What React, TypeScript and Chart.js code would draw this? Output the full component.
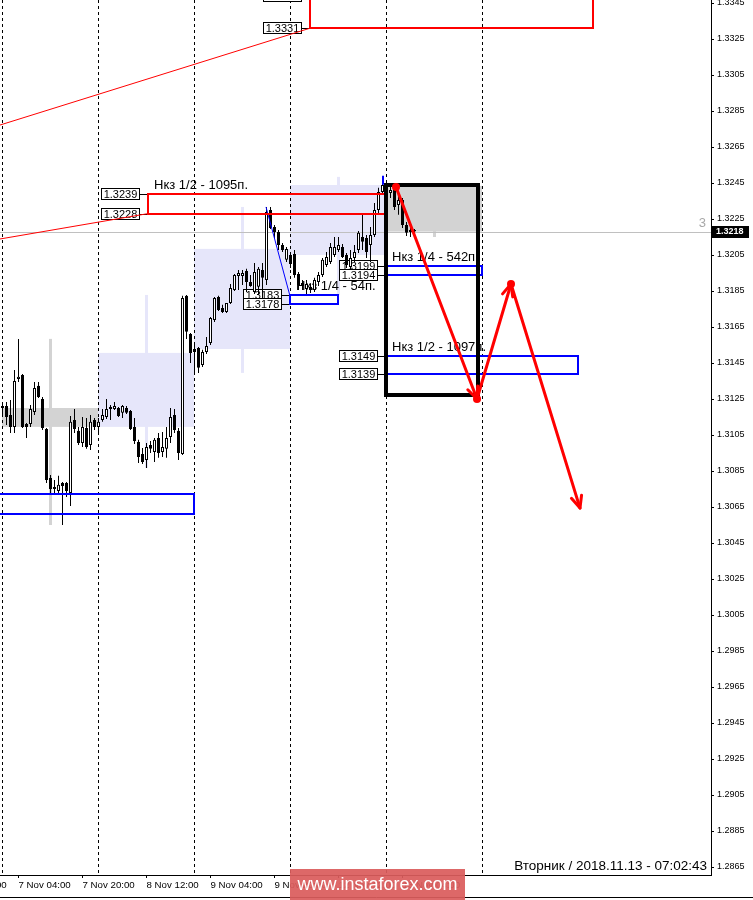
import React, { useEffect, useRef } from 'react';
import { Chart, registerables } from 'chart.js';

Chart.register(...registerables);

// ---------- DATA ----------
// Hourly candles, index = trading hour since 7 Nov 00:00 (weekend skipped)
const DAY_NAMES = ['7 Nov', '8 Nov', '9 Nov', '12 Nov', '13 Nov'];
const DAY_START = [0, 24, 48, 72, 96];
const SEPARATORS = [0, 24, 48, 72, 96, 120];

const OPEN = [
  1.31200, 1.31211, 1.31161, 1.31095, 1.31361, 1.31384, 1.31111, 1.31111, 1.31178, 1.31323, 1.31250, 1.31084,
  1.30811, 1.30761, 1.30739, 1.30784, 1.30784, 1.30728, 1.31134, 1.31073, 1.31006, 1.31089, 1.30995, 1.31134,
  1.31095, 1.31134, 1.31150, 1.31195, 1.31195, 1.31200, 1.31173, 1.31200, 1.31184, 1.31095, 1.31011, 1.30945,
  1.30911, 1.30995, 1.30956, 1.31034, 1.30956, 1.30973, 1.31039, 1.31161, 1.31073, 1.30945, 1.31823, 1.31611,
  1.31528, 1.31534, 1.31439, 1.31511, 1.31561, 1.31689, 1.31817, 1.31756, 1.31734, 1.31784, 1.31856, 1.31934,
  1.31934, 1.31961, 1.31900, 1.31845, 1.31873, 1.31967, 1.31911, 1.32300, 1.32206, 1.32178, 1.32106, 1.32023,
  1.32050, 1.32056, 1.31945, 1.31895, 1.31861, 1.31873, 1.31856, 1.31900, 1.31939, 1.31995, 1.32011, 1.32050,
  1.32078, 1.32095, 1.32050, 1.31984, 1.32034, 1.32078, 1.32150, 1.32145, 1.32106, 1.32161, 1.32300, 1.32400,
  1.32434, 1.32395, 1.32411, 1.32328, 1.32356, 1.32217, 1.32178, 1.32189,
];
const HIGH = [
  1.31234, 1.31234, 1.31245, 1.31411, 1.31584, 1.31389, 1.31117, 1.31217, 1.31345, 1.31345, 1.31261, 1.31089,
  1.30828, 1.30800, 1.30823, 1.30789, 1.30789, 1.31156, 1.31195, 1.31095, 1.31150, 1.31145, 1.31161, 1.31145,
  1.31145, 1.31195, 1.31250, 1.31217, 1.31234, 1.31206, 1.31217, 1.31211, 1.31189, 1.31145, 1.31023, 1.30978,
  1.31006, 1.31017, 1.31034, 1.31061, 1.31067, 1.31095, 1.31200, 1.31195, 1.31089, 1.31823, 1.31828, 1.31617,
  1.31550, 1.31539, 1.31523, 1.31595, 1.31706, 1.31817, 1.31823, 1.31773, 1.31784, 1.31889, 1.31945, 1.31967,
  1.31967, 1.31973, 1.31939, 1.32006, 1.31984, 1.32006, 1.32317, 1.32317, 1.32217, 1.32189, 1.32117, 1.32095,
  1.32067, 1.32078, 1.31956, 1.31911, 1.31911, 1.31889, 1.31923, 1.31956, 1.32034, 1.32067, 1.32117, 1.32150,
  1.32150, 1.32111, 1.32061, 1.32078, 1.32106, 1.32184, 1.32273, 1.32161, 1.32206, 1.32339, 1.32423, 1.32484,
  1.32445, 1.32439, 1.32423, 1.32384, 1.32367, 1.32234, 1.32200, 1.32195,
];
const LOW = [
  1.31150, 1.31106, 1.31061, 1.31061, 1.31345, 1.31089, 1.31034, 1.31095, 1.31161, 1.31256, 1.31078, 1.30784,
  1.30728, 1.30717, 1.30717, 1.30550, 1.30706, 1.30656, 1.31061, 1.30995, 1.30984, 1.30973, 1.30967, 1.31078,
  1.31061, 1.31123, 1.31139, 1.31134, 1.31189, 1.31150, 1.31145, 1.31167, 1.31078, 1.31000, 1.30895, 1.30889,
  1.30867, 1.30950, 1.30900, 1.30923, 1.30928, 1.30923, 1.31006, 1.31061, 1.30911, 1.30939, 1.31584, 1.31450,
  1.31400, 1.31395, 1.31428, 1.31500, 1.31550, 1.31678, 1.31739, 1.31728, 1.31728, 1.31778, 1.31850, 1.31856,
  1.31884, 1.31845, 1.31873, 1.31834, 1.31828, 1.31811, 1.31884, 1.32195, 1.32145, 1.32078, 1.32067, 1.32011,
  1.31978, 1.31923, 1.31856, 1.31856, 1.31828, 1.31839, 1.31845, 1.31878, 1.31928, 1.31984, 1.32000, 1.32039,
  1.32067, 1.32034, 1.31978, 1.31967, 1.32011, 1.32061, 1.32078, 1.32034, 1.32011, 1.32150, 1.32278, 1.32384,
  1.32378, 1.32367, 1.32300, 1.32273, 1.32200, 1.32156, 1.32150, 1.32173,
];
const CLOSE = [
  1.31211, 1.31150, 1.31095, 1.31350, 1.31373, 1.31095, 1.31095, 1.31195, 1.31311, 1.31261, 1.31089, 1.30800,
  1.30750, 1.30750, 1.30773, 1.30767, 1.30739, 1.31123, 1.31084, 1.31006, 1.31095, 1.30984, 1.31123, 1.31095,
  1.31123, 1.31161, 1.31195, 1.31206, 1.31211, 1.31156, 1.31211, 1.31173, 1.31084, 1.31017, 1.30928, 1.30900,
  1.30984, 1.30973, 1.31023, 1.30950, 1.30984, 1.31034, 1.31150, 1.31078, 1.30950, 1.31811, 1.31623, 1.31506,
  1.31511, 1.31423, 1.31511, 1.31545, 1.31700, 1.31811, 1.31745, 1.31734, 1.31784, 1.31867, 1.31939, 1.31950,
  1.31950, 1.31900, 1.31878, 1.31956, 1.31973, 1.31923, 1.32289, 1.32200, 1.32178, 1.32106, 1.32078, 1.32084,
  1.32000, 1.31939, 1.31884, 1.31884, 1.31889, 1.31856, 1.31911, 1.31939, 1.32023, 1.32039, 1.32095, 1.32095,
  1.32106, 1.32039, 1.31995, 1.32034, 1.32067, 1.32173, 1.32123, 1.32067, 1.32161, 1.32300, 1.32400, 1.32439,
  1.32395, 1.32411, 1.32317, 1.32356, 1.32217, 1.32173, 1.32189, 1.32180,
];

const X_TICK_H = [-12, 4, 20, 36, 52, 68, 84, 100];
const X_TICK_LABELS = ['6 Nov 12:00', '7 Nov 04:00', '7 Nov 20:00', '8 Nov 12:00', '9 Nov 04:00', '9 Nov 20:00', '12 Nov 12:00', '13 Nov 04:00'];
const Y_TICKS = [
  1.2865, 1.2885, 1.2905, 1.2925, 1.2945, 1.2965, 1.2985, 1.3005, 1.3025, 1.3045, 1.3065, 1.3085, 1.3105,
  1.3125, 1.3145, 1.3165, 1.3185, 1.3205, 1.3225, 1.3245, 1.3265, 1.3285, 1.3305, 1.3325, 1.3345,
];
const X_MIN = -0.625;
const X_MAX = 177.125;
const Y_MIN = 1.286056;
const Y_MAX = 1.334667;

// Zones (hour start, hour end, low price, high price)
const ZONE_KIND = ['red', 'red', 'blue', 'blue', 'blue', 'blue'];
const ZONE_H0 = [76.875, 36.375, -2, 71.875, 95.875, 95.875];
const ZONE_H1 = [147.625, 95.875, 47.875, 83.875, 119.875, 143.875];
const ZONE_LO = [1.3331, 1.3228, 1.3061, 1.3178, 1.3194, 1.3139];
const ZONE_HI = [1.3349, 1.3239, 1.3072, 1.3183, 1.3199, 1.3149];
const ZONE_LABELED = [true, true, false, true, true, true];
const ZONE_CAPTION = ['', 'Нкз 1/2 - 1095п.', '', 'Нкз 1/4 - 54п.', 'Нкз 1/4 - 542п.', 'Нкз 1/2 - 1097п.'];

// Trend lines [h0, p0, h1, p1]
const RED_TRENDS = [
  [-0.625, 1.32772, 76.875, 1.3331],
  [-0.625, 1.32139, 36.375, 1.3228],
];
const BLUE_TRENDS = [[65.875, 1.32317, 71.875, 1.31822]];
const BLUE_TICKS = [
  [95.875, 1.3199, 1.3205],
  [95.875, 1.3149, 1.3162],
  [95.125, 1.3244, 1.3249],
];
const BLACK_BOX = [95.875, 118.875, 1.3127, 1.3244];
const ARROW_H = [98.375, 118.625, 127.125, 144.375];
const ARROW_P = [1.32428, 1.3125, 1.31889, 1.30644];

const SERVER_TIME = 'Вторник / 2018.11.13 - 07:02:43';
const WATERMARK = 'www.instaforex.com';

// ---------- STYLE ----------
const FONT = '"Liberation Sans", Arial, sans-serif';
const RED = '#ff0000';
const BLUE = '#0000ff';
const LAVENDER = 'rgb(230,230,250)';
const DAY_GREY = 'rgb(211,211,211)';

function drawPriceTag(ctx: any, text: string, right: number, yc: number, lineTo: number) {
  ctx.font = '11px ' + FONT;
  const w = Math.ceil(ctx.measureText(text).width) + 5;
  const yy = Math.round(yc);
  const r = Math.round(right);
  const x0 = r - w;
  ctx.fillStyle = '#fff';
  ctx.fillRect(x0, yy - 6, w, 12);
  ctx.strokeStyle = '#000';
  ctx.lineWidth = 1;
  ctx.strokeRect(x0 + 0.5, yy - 5.5, w - 1, 11);
  ctx.fillStyle = '#000';
  ctx.textAlign = 'center';
  ctx.textBaseline = 'middle';
  ctx.fillText(text, x0 + w / 2, yy + 0.5);
  ctx.beginPath();
  ctx.moveTo(r, yy + 0.5);
  ctx.lineTo(Math.round(lineTo), yy + 0.5);
  ctx.stroke();
}

function arrowHead(ctx: any, sx: number, sy: number, ex: number, ey: number) {
  const ang = Math.atan2(ey - sy, ex - sx);
  const L = 13;
  const sp = 0.42;
  ctx.beginPath();
  ctx.moveTo(ex - L * Math.cos(ang - sp), ey - L * Math.sin(ang - sp));
  ctx.lineTo(ex, ey);
  ctx.lineTo(ex - L * Math.cos(ang + sp), ey - L * Math.sin(ang + sp));
  ctx.stroke();
}

const overlayPlugin = {
  id: 'fxOverlay',
  beforeDatasetsDraw(chart: any) {
    const { ctx, chartArea: a, scales } = chart;
    const X = (h: number) => scales.x.getPixelForValue(h);
    const Y = (p: number) => scales.y.getPixelForValue(p);
    ctx.save();
    ctx.beginPath();
    ctx.rect(a.left, a.top, a.right - a.left, a.bottom - a.top);
    ctx.clip();

    // daily candles in the background
    DAY_START.forEach((s, d) => {
      const e = d + 1 < DAY_START.length ? DAY_START[d + 1] : OPEN.length;
      const o = OPEN[s];
      const c = CLOSE[e - 1];
      const hi = Math.max(...HIGH.slice(s, e));
      const lo = Math.min(...LOW.slice(s, e));
      ctx.fillStyle = c >= o ? LAVENDER : DAY_GREY;
      const x0 = Math.round(X(s - 0.125));
      const x1 = Math.round(X(s + 23.875));
      const yt = Y(Math.max(o, c));
      const yb = Y(Math.min(o, c));
      ctx.fillRect(x0, yt, x1 - x0, yb - yt);
      const xc = Math.round(X(s + 11.875));
      ctx.fillRect(xc - 1, Y(hi), 3, Y(lo) - Y(hi));
    });

    // day separators
    ctx.strokeStyle = '#000';
    ctx.lineWidth = 1;
    ctx.setLineDash([3, 3]);
    SEPARATORS.forEach((s) => {
      const x = Math.round(X(s - 0.125)) + 0.5;
      ctx.beginPath();
      ctx.moveTo(x, a.top);
      ctx.lineTo(x, a.bottom);
      ctx.stroke();
    });
    ctx.setLineDash([]);

    // bid line
    const bid = CLOSE[CLOSE.length - 1];
    const yBid = Math.round(Y(bid)) + 0.5;
    ctx.strokeStyle = '#c0c0c0';
    ctx.beginPath();
    ctx.moveTo(a.left, yBid);
    ctx.lineTo(a.right, yBid);
    ctx.stroke();

    // price tags & captions
    ZONE_H0.forEach((h0, i) => {
      if (!ZONE_LABELED[i]) return;
      const left = X(h0);
      drawPriceTag(ctx, ZONE_HI[i].toFixed(4), left - 8, Y(ZONE_HI[i]), left);
      drawPriceTag(ctx, ZONE_LO[i].toFixed(4), left - 8, Y(ZONE_LO[i]), left);
      if (ZONE_CAPTION[i]) {
        ctx.font = '13px ' + FONT;
        ctx.fillStyle = '#000';
        ctx.textAlign = 'left';
        ctx.textBaseline = 'alphabetic';
        ctx.fillText(ZONE_CAPTION[i], Math.round(left) + 6, Math.round(Y(ZONE_HI[i])) - 5);
      }
    });
    ctx.restore();
  },
  afterDatasetsDraw(chart: any) {
    const { ctx, chartArea: a, scales } = chart;
    const X = (h: number) => scales.x.getPixelForValue(h);
    const Y = (p: number) => scales.y.getPixelForValue(p);
    ctx.save();
    ctx.beginPath();
    ctx.rect(a.left, a.top, a.right - a.left, a.bottom - a.top);
    ctx.clip();

    ctx.lineWidth = 1;
    ctx.strokeStyle = RED;
    RED_TRENDS.forEach(([h0, p0, h1, p1]) => {
      ctx.beginPath();
      ctx.moveTo(X(h0), Y(p0));
      ctx.lineTo(X(h1), Y(p1));
      ctx.stroke();
    });
    ctx.strokeStyle = BLUE;
    BLUE_TRENDS.forEach(([h0, p0, h1, p1]) => {
      ctx.beginPath();
      ctx.moveTo(X(h0), Y(p0));
      ctx.lineTo(X(h1), Y(p1));
      ctx.stroke();
    });

    // zones
    ctx.lineWidth = 2;
    ZONE_H0.forEach((h0, i) => {
      ctx.strokeStyle = ZONE_KIND[i] === 'red' ? RED : BLUE;
      const x0 = Math.round(X(h0));
      const x1 = Math.round(X(ZONE_H1[i]));
      const y0 = Math.round(Y(ZONE_HI[i]));
      const y1 = Math.round(Y(ZONE_LO[i]));
      ctx.strokeRect(x0, y0, x1 - x0, y1 - y0);
    });

    // blue vertical ticks
    ctx.strokeStyle = BLUE;
    ctx.lineWidth = 2;
    BLUE_TICKS.forEach(([h, p0, p1]) => {
      const x = Math.round(X(h));
      ctx.beginPath();
      ctx.moveTo(x, Y(p0));
      ctx.lineTo(x, Y(p1));
      ctx.stroke();
    });

    // black box
    ctx.strokeStyle = '#000';
    ctx.lineWidth = 4;
    {
      const [h0, h1, lo, hi] = BLACK_BOX;
      const x0 = Math.round(X(h0));
      const x1 = Math.round(X(h1));
      const y0 = Math.round(Y(hi));
      const y1 = Math.round(Y(lo));
      ctx.strokeRect(x0, y0, x1 - x0, y1 - y0);
    }

    // red arrows
    ctx.strokeStyle = RED;
    ctx.fillStyle = RED;
    ctx.lineWidth = 3;
    ctx.lineCap = 'round';
    ctx.lineJoin = 'round';
    const pts = ARROW_H.map((h, i) => [X(h), Y(ARROW_P[i])]);
    for (let i = 0; i < pts.length - 1; i++) {
      const [sx, sy] = pts[i];
      const [ex, ey] = pts[i + 1];
      ctx.beginPath();
      ctx.moveTo(sx, sy);
      ctx.lineTo(ex, ey);
      ctx.stroke();
      arrowHead(ctx, sx, sy, ex, ey);
    }
    for (let i = 0; i < pts.length - 1; i++) {
      ctx.beginPath();
      ctx.arc(pts[i][0], pts[i][1], 4, 0, Math.PI * 2);
      ctx.fill();
    }
    ctx.restore();
  },
  afterDraw(chart: any) {
    const { ctx, chartArea: a, scales, width, height } = chart;
    const Y = (p: number) => scales.y.getPixelForValue(p);
    ctx.save();
    const bid = CLOSE[CLOSE.length - 1];
    const yb = Math.round(Y(bid));

    // "3" marker
    ctx.font = '13px ' + FONT;
    ctx.fillStyle = '#a8a8a8';
    ctx.textAlign = 'right';
    ctx.textBaseline = 'alphabetic';
    ctx.fillText('3', a.right - 5, yb - 5);

    // bid label on axis
    ctx.fillStyle = '#000';
    ctx.fillRect(a.right + 1, yb - 6, 37, 12);
    ctx.fillStyle = '#fff';
    ctx.font = 'bold 9px ' + FONT;
    ctx.textAlign = 'left';
    ctx.textBaseline = 'middle';
    ctx.fillText(bid.toFixed(4), a.right + 5, yb);

    // server time text
    ctx.fillStyle = '#000';
    ctx.font = '13.5px ' + FONT;
    ctx.textAlign = 'right';
    ctx.textBaseline = 'alphabetic';
    ctx.fillText(SERVER_TIME, a.right - 4, a.bottom - 5);

    // bottom frame line
    ctx.strokeStyle = '#000';
    ctx.lineWidth = 1;
    ctx.beginPath();
    ctx.moveTo(0, height - 2.5);
    ctx.lineTo(width, height - 2.5);
    ctx.stroke();

    // watermark
    ctx.fillStyle = 'rgba(218, 92, 92, 0.93)';
    ctx.fillRect(290, a.bottom - 6, 175, height - a.bottom + 6);
    ctx.fillStyle = '#fff';
    ctx.font = '18px ' + FONT;
    ctx.textAlign = 'center';
    ctx.textBaseline = 'middle';
    ctx.fillText(WATERMARK, 377.5, a.bottom + 10);
    ctx.restore();
  },
};

export default function App() {
  const ref = useRef<HTMLCanvasElement>(null);
  useEffect(() => {
    const canvas = ref.current;
    if (!canvas) return;
    const wickData = OPEN.map((_, i) => ({ x: i, y: [LOW[i], HIGH[i]] }));
    const bodyData = OPEN.map((o, i) => ({ x: i, y: [Math.min(o, CLOSE[i]), Math.max(o, CLOSE[i])] }));
    const chart = new Chart(canvas, {
      type: 'bar',
      data: {
        datasets: [
          {
            data: wickData as any,
            backgroundColor: '#000',
            borderWidth: 0,
            barThickness: 1,
            grouped: false,
            order: 2,
            inflateAmount: 0,
          } as any,
          {
            data: bodyData as any,
            backgroundColor: OPEN.map((o, i) => (CLOSE[i] >= o ? '#fff' : '#000')),
            borderColor: '#000',
            borderWidth: 1,
            borderSkipped: false,
            barThickness: 3,
            grouped: false,
            order: 1,
            inflateAmount: 0,
            minBarLength: 1,
          } as any,
        ],
      },
      options: {
        animation: false,
        responsive: false,
        maintainAspectRatio: false,
        devicePixelRatio: 1,
        layout: { padding: 0 },
        events: [],
        plugins: { legend: { display: false }, tooltip: { enabled: false }, title: { display: false } },
        scales: {
          x: {
            type: 'linear',
            min: X_MIN,
            max: X_MAX,
            offset: false,
            grid: { display: true, drawOnChartArea: false, drawTicks: true, tickLength: 3, color: '#000', offset: false },
            border: { display: true, color: '#000', width: 1 },
            ticks: {
              autoSkip: false,
              maxRotation: 0,
              minRotation: 0,
              align: 'start',
              padding: 2,
              color: '#000',
              font: { family: 'Liberation Sans', size: 9.7 },
              callback: (v: any) => {
                const k = X_TICK_H.indexOf(Number(v));
                return k >= 0 ? X_TICK_LABELS[k] : '';
              },
            },
            afterBuildTicks: (s: any) => {
              s.ticks = X_TICK_H.map((v) => ({ value: v }));
            },
            afterFit: (s: any) => {
              s.height = 25;
              s.paddingLeft = 0;
              s.paddingRight = 0;
            },
          } as any,
          y: {
            type: 'linear',
            position: 'right',
            min: Y_MIN,
            max: Y_MAX,
            beginAtZero: false,
            grid: { display: true, drawOnChartArea: false, drawTicks: true, tickLength: 3, color: '#000' },
            border: { display: true, color: '#000', width: 1 },
            ticks: {
              autoSkip: false,
              padding: 3,
              color: '#000',
              font: { family: 'Liberation Sans', size: 9 },
              callback: (v: any) => Number(v).toFixed(4),
            },
            afterBuildTicks: (s: any) => {
              s.ticks = Y_TICKS.map((v) => ({ value: v }));
            },
            afterFit: (s: any) => {
              s.width = 42;
              s.paddingTop = 0;
              s.paddingBottom = 0;
            },
          } as any,
        },
      } as any,
      plugins: [overlayPlugin as any],
    });
    return () => chart.destroy();
  }, []);
  return (
    <div style={{ position: 'absolute', left: 0, top: 0, width: 753, height: 900, background: '#fff' }}>
      <canvas ref={ref} width={753} height={900} style={{ display: 'block' }} />
    </div>
  );
}
